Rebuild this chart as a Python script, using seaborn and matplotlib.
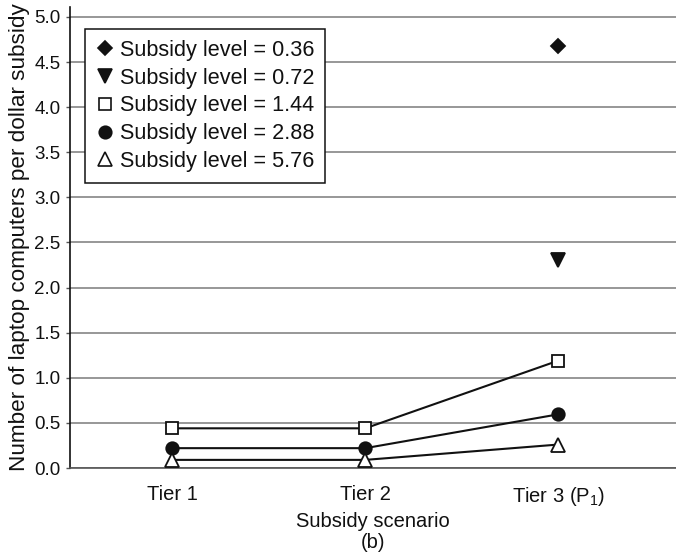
import matplotlib
matplotlib.use("Agg")
import matplotlib.pyplot as plt
from matplotlib.lines import Line2D
import numpy as np
import pandas as pd
import seaborn as sns

# Data
tiers = ["Tier 1", "Tier 2", "Tier 3 (P$_1$)"]
levels = ["0.36", "0.72", "1.44", "2.88", "5.76"]
units_036 = [np.nan, np.nan, 4.68]
units_072 = [np.nan, np.nan, 2.31]
units_144 = [0.44, 0.44, 1.19]
units_288 = [0.22, 0.22, 0.595]
units_576 = [0.09, 0.09, 0.26]
series = {"0.36": units_036, "0.72": units_072, "1.44": units_144,
          "2.88": units_288, "5.76": units_576}
y_ticks = [0.0, 0.5, 1.0, 1.5, 2.0, 2.5, 3.0, 3.5, 4.0, 4.5, 5.0]

rows = []
for lvl in levels:
    for t, v in zip(tiers, series[lvl]):
        rows.append({"tier": t, "level": lvl, "value": v})
df = pd.DataFrame(rows)

sns.set_theme(style="white")
plt.rcParams["font.family"] = ["Liberation Sans", "DejaVu Sans"]
plt.rcParams["mathtext.fontset"] = "custom"
plt.rcParams["mathtext.rm"] = "Liberation Sans"
plt.rcParams["mathtext.it"] = "Liberation Sans"

INK = "#111111"
marker_style = {
    "0.36": dict(marker="D", markersize=7.5, markerfacecolor=INK),
    "0.72": dict(marker="v", markersize=10, markerfacecolor=INK),
    "1.44": dict(marker="s", markersize=8, markerfacecolor="white"),
    "2.88": dict(marker="o", markersize=9, markerfacecolor=INK),
    "5.76": dict(marker="^", markersize=9.5, markerfacecolor="white"),
}

fig = plt.figure(figsize=(6.76, 5.53), dpi=100)
ax = fig.add_axes([0.1036, 0.1537, 0.8964, 0.8336])

# Series with all three tiers first so the categorical axis keeps tier order
draw_order = ["1.44", "2.88", "5.76", "0.36", "0.72"]
for lvl in draw_order:
    sub = df[df["level"] == lvl].dropna()
    st = marker_style[lvl]
    sns.lineplot(data=sub, x="tier", y="value", ax=ax, color=INK,
                 linewidth=1.5, marker=st["marker"], markersize=st["markersize"],
                 markerfacecolor=st["markerfacecolor"], markeredgecolor=INK,
                 markeredgewidth=1.3, legend=False, zorder=3)

ax.set_ylim(0, 5.11)
ax.set_xlim(-0.53, 2.61)
ax.set_yticks(y_ticks)
ax.set_yticklabels([f"{v:.1f}" for v in y_ticks], fontsize=13.5)
ax.set_xticks(range(len(tiers)))
ax.set_xticklabels(tiers, fontsize=14.5)
ax.yaxis.grid(True, color="#7a7a7a", linewidth=1.1)
ax.set_axisbelow(True)
for s in ["top", "right"]:
    ax.spines[s].set_visible(False)
ax.spines["left"].set_color(INK)
ax.spines["left"].set_linewidth(1.2)
ax.spines["bottom"].set_color("#555555")
ax.spines["bottom"].set_linewidth(1.2)
ax.tick_params(axis="y", left=True, length=3, width=1, color="#555555",
               pad=4, labelcolor=INK)
ax.tick_params(axis="x", bottom=False, pad=6.5, labelcolor=INK)

ax.set_xlabel("Subsidy scenario\n(b)", fontsize=14.5, linespacing=1.12,
              labelpad=2.5, color=INK)
ax.set_ylabel("Number of laptop computers per dollar subsidy", fontsize=16.2,
              labelpad=3, color=INK)

handles = [Line2D([], [], linestyle="none", color=INK,
                  marker=marker_style[l]["marker"],
                  markersize=marker_style[l]["markersize"],
                  markerfacecolor=marker_style[l]["markerfacecolor"],
                  markeredgecolor=INK, markeredgewidth=1.2) for l in levels]
labels = [f"Subsidy level = {l}" for l in levels]
leg = ax.legend(handles, labels, loc="upper left", bbox_to_anchor=(0.025, 0.952),
                frameon=True, fancybox=False, edgecolor=INK, framealpha=1,
                fontsize=15.6, handlelength=0.8, handletextpad=0.3,
                labelspacing=0.31, borderpad=0.5, borderaxespad=0)
leg.get_frame().set_linewidth(1.1)
for txt in leg.get_texts():
    txt.set_color(INK)

fig.savefig("out.png", dpi=100)
